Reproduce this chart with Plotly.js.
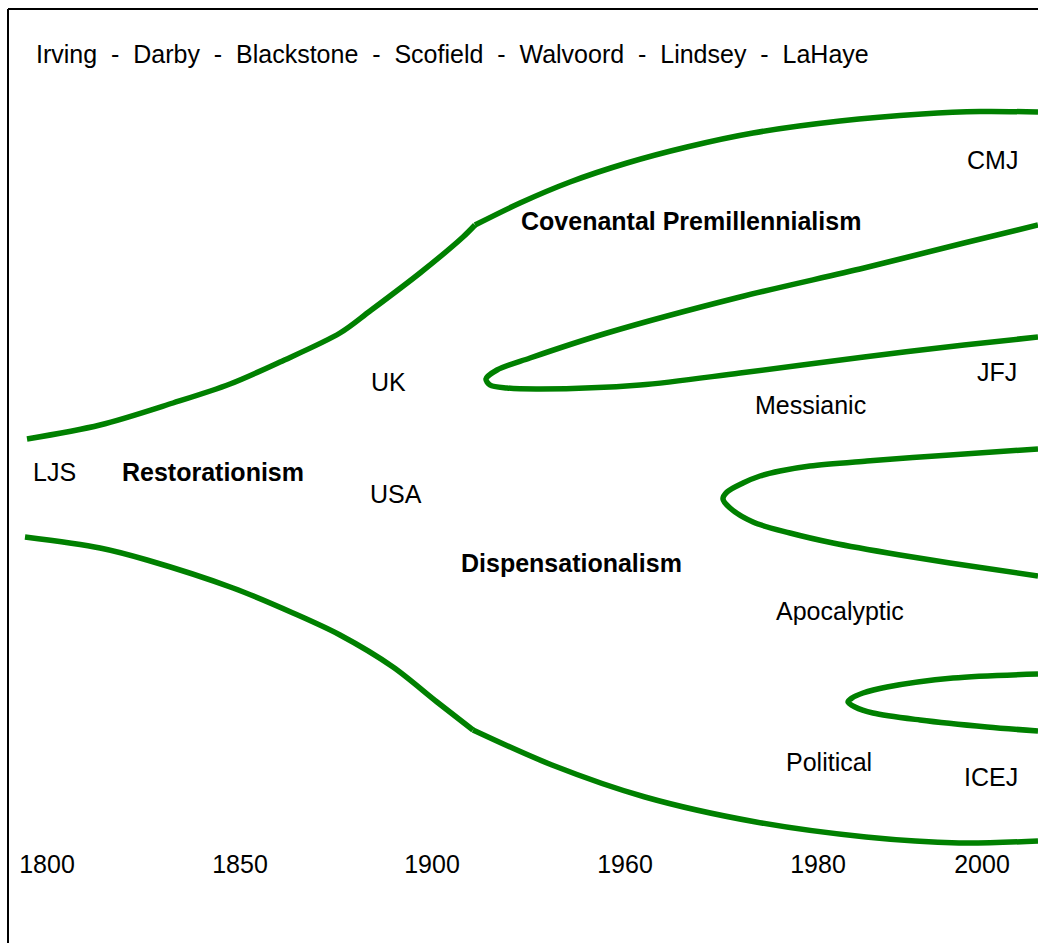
<!DOCTYPE html>
<html>
<head>
<meta charset="utf-8">
<script src="https://cdn.plot.ly/plotly-3.0.1.min.js"></script>
<style>html,body{margin:0;padding:0;background:#fff;}#chart{width:1038px;height:943px;}</style>
</head>
<body>
<div id="chart"></div>
<script>
// ---- data (positions, in chart units) ----
const restorTopX = [27, 100, 173, 230, 280, 340, 370, 420, 463, 475];
const restorTopY = [439, 425, 403, 384, 362, 333, 311, 273, 237, 225];
const covTopX = [475, 520, 570, 627, 687, 753, 840, 922, 980, 1038];
const covTopY = [225, 203, 182, 163, 147, 133, 121, 114, 111.5, 112];
const restorBotX = [25, 100, 147, 233, 293, 340, 393, 437, 473];
const restorBotY = [537, 548, 560, 588, 613, 635, 667, 702, 730];
const dispBotX = [473, 552, 645, 756, 866, 959, 1038];
const dispBotY = [730, 765, 797, 822, 837, 843, 841];
const messianicX = [1038, 964, 864, 740, 607, 530, 497, 486, 490, 507, 540, 640, 740, 864, 964, 1038];
const messianicY = [225, 243, 268, 297, 333, 358, 370, 379, 385, 388, 389, 385, 373, 357, 345, 337];
const apocalypticX = [1038, 950, 867, 810, 780, 760, 743, 727, 723, 730, 753, 790, 833, 900, 950, 1038];
const apocalypticY = [449, 455, 461, 466, 471, 476, 483, 492, 499, 508, 522, 533, 543, 555, 563, 576];
const politicalX = [1038, 953, 887, 863, 852, 848, 855, 873, 920, 987, 1038];
const politicalY = [674, 678, 687, 693, 698, 702, 707, 713, 720, 727, 731];

const yearTickVals = [47, 240, 432, 625, 818, 982];
const yearTickText = ['1800', '1850', '1900', '1960', '1980', '2000'];

const headerNames = ['Irving', 'Darby', 'Blackstone', 'Scofield', 'Walvoord', 'Lindsey', 'LaHaye'];

const labelText = ['CMJ', 'Covenantal Premillennialism', 'UK', 'JFJ', 'Messianic', 'LJS', 'Restorationism',
                   'USA', 'Dispensationalism', 'Apocalyptic', 'Political', 'ICEJ'];
const labelX = [992, 691, 388, 997, 810, 54, 213, 396, 571, 840, 829, 991];
const labelY = [160, 221, 382, 372, 405, 472, 472, 494, 563, 611, 762, 777];
const labelBold = [false, true, false, false, false, false, true, false, true, false, false, false];

// ---- drawing ----
const GREEN = '#008000';
const FONT = 'Liberation Sans, Arial, sans-serif';
const FS = 25;
const W = 1038, H = 943, PLOT_H = 847;

function curve(x, y, name) {
  return {x: x, y: y, name: name, type: 'scatter', mode: 'lines',
          line: {color: GREEN, width: 5.5, shape: 'spline', smoothing: 0.9},
          hoverinfo: 'skip', showlegend: false};
}

const traces = [
  curve(restorTopX, restorTopY, 'Restorationism (upper)'),
  curve(covTopX, covTopY, 'Covenantal Premillennialism'),
  curve(restorBotX, restorBotY, 'Restorationism (lower)'),
  curve(dispBotX, dispBotY, 'Dispensationalism'),
  curve(messianicX, messianicY, 'Messianic'),
  curve(apocalypticX, apocalypticY, 'Apocalyptic'),
  curve(politicalX, politicalY, 'Political')
];

const sp = '\u00a0\u00a0-\u00a0\u00a0';
const annotations = [{
  text: headerNames.join(sp), x: 34, y: 54, xref: 'x', yref: 'y',
  xanchor: 'left', yanchor: 'middle', showarrow: false,
  font: {family: FONT, size: FS, color: '#000'}
}];
labelText.forEach((t, i) => {
  annotations.push({
    text: labelBold[i] ? '<b>' + t + '</b>' : t,
    x: labelX[i], y: labelY[i], xref: 'x', yref: 'y',
    xanchor: 'center', yanchor: 'middle', showarrow: false,
    font: {family: FONT, size: FS, color: '#000'}
  });
});

const layout = {
  width: W, height: H,
  margin: {l: 0, r: 0, t: 0, b: H - PLOT_H, pad: 0},
  paper_bgcolor: '#fff', plot_bgcolor: '#fff',
  showlegend: false,
  xaxis: {range: [0, W], showgrid: false, zeroline: false, showline: false,
          tickmode: 'array', tickvals: yearTickVals, ticktext: yearTickText,
          ticks: '', tickfont: {family: FONT, size: FS, color: '#000'}, fixedrange: true},
  yaxis: {range: [PLOT_H, 0], showgrid: false, zeroline: false, showline: false,
          showticklabels: false, ticks: '', fixedrange: true},
  annotations: annotations,
  shapes: [
    {type: 'line', xref: 'paper', yref: 'paper', x0: 8 / W, x1: 8 / W,
     y0: 1 - 9 / PLOT_H, y1: 1 - H / PLOT_H, line: {color: '#000', width: 2}},
    {type: 'line', xref: 'paper', yref: 'paper', x0: 8 / W, x1: 1.01,
     y0: 1 - 9 / PLOT_H, y1: 1 - 9 / PLOT_H, line: {color: '#000', width: 2}}
  ]
};

Plotly.newPlot('chart', traces, layout, {staticPlot: true, displayModeBar: false});
</script>
</body>
</html>
